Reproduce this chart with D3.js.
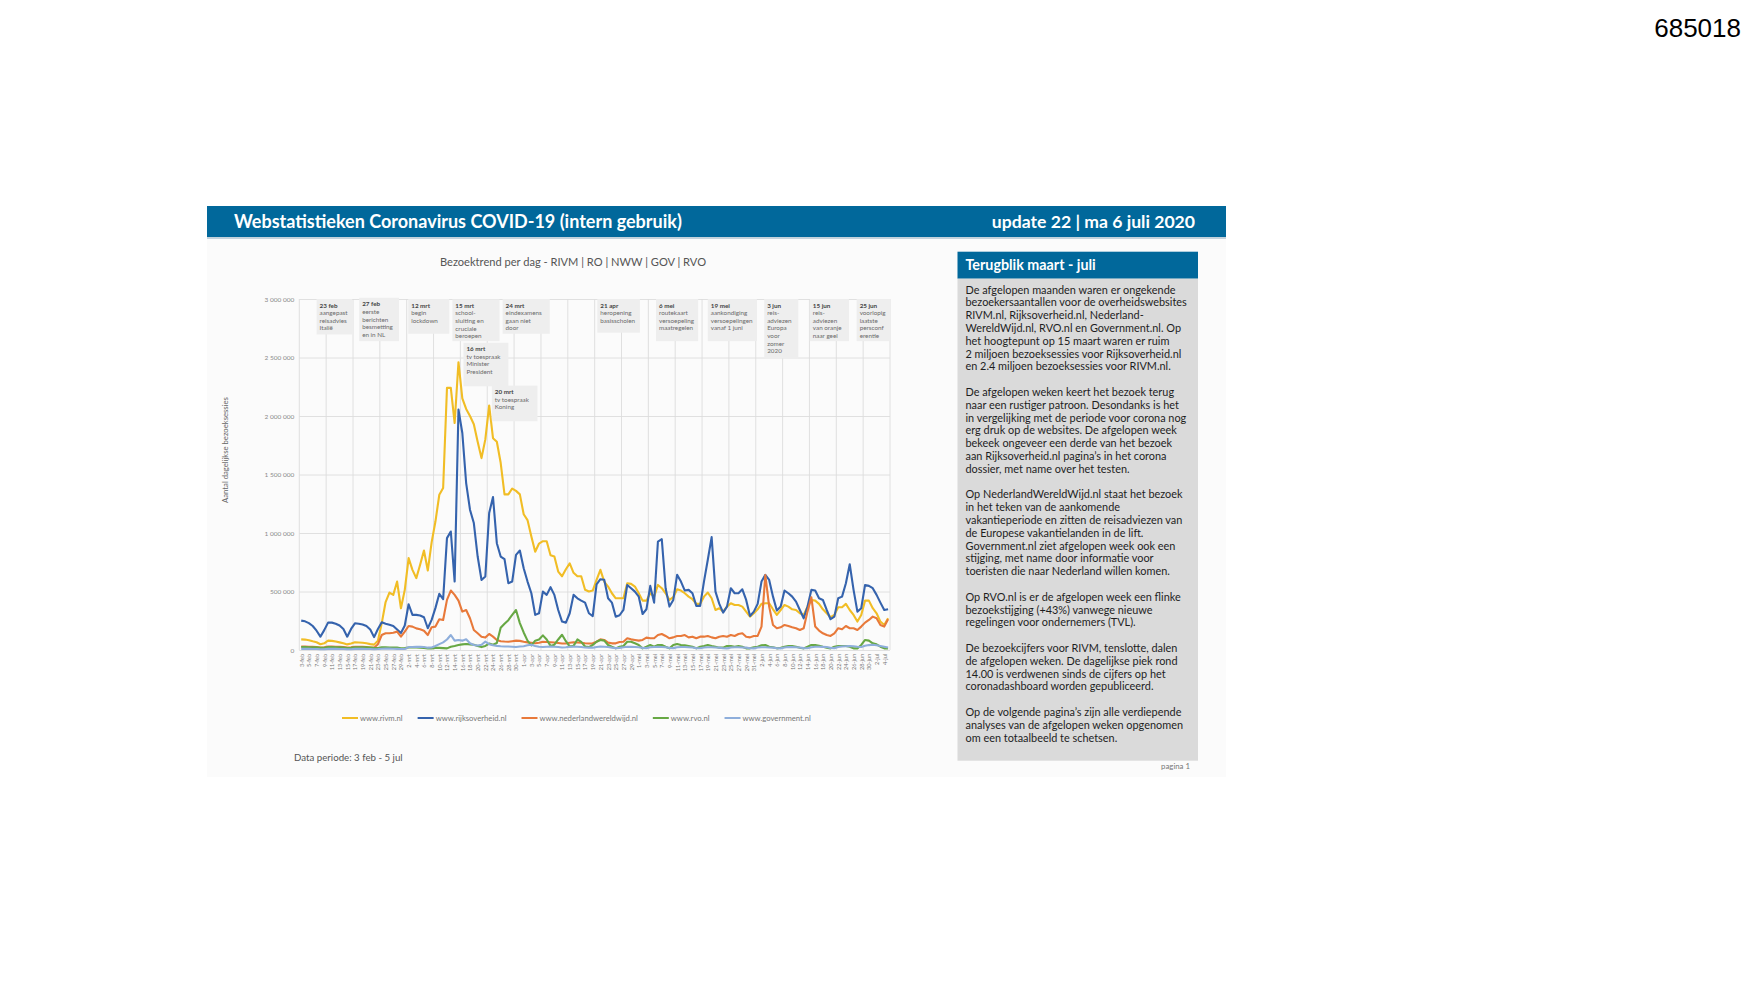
<!DOCTYPE html>
<meta charset="utf-8" />
<style>
  body {
    margin: 0;
    background: #ffffff;
  }
  text {
    font-family: Lato, "Open Sans", sans-serif;
  }
</style>
<body>
  <div id="my_dataviz"></div>
  <script src="https://d3js.org/d3.v7.min.js"></script>
  <script>
    // ---- data (daily visits, in thousands) ----
    var startDate = new Date(2020, 1, 3);
    var dayCount = 154;
    var monthNames = ["jan", "feb", "mrt", "apr", "mei", "jun", "jul", "aug", "sep", "okt", "nov", "dec"];
    var yTicks = [0, 500, 1000, 1500, 2000, 2500, 3000];
    var seriesNames = ["www.rivm.nl", "www.rijksoverheid.nl", "www.nederlandwereldwijd.nl", "www.rvo.nl", "www.government.nl"];

    var rivm = [
      91, 89, 83, 74, 66, 49, 57, 80, 78, 72, 65, 58, 48, 55, 66, 64, 62, 57, 50, 46, 80,
      230, 410, 491, 471, 585, 357, 514, 785, 685, 614, 728, 850, 679, 920, 1100, 1327, 1384, 2240, 2240, 1940,
      2460, 2150, 2060, 2000, 1930, 1780, 1640, 1800, 2090, 1810, 1780, 1600, 1330, 1330, 1380, 1360, 1330, 1160, 1110, 970,
      840, 910, 930, 930, 810, 800, 670, 630, 690, 740, 660, 630, 630, 515, 500,
      508, 599, 685, 585, 542, 485, 442, 442, 442, 571, 565, 542, 485, 422, 422, 485, 456, 556, 528, 485,
      428, 451, 519, 508, 485, 456, 434, 394, 394, 456, 491, 442, 342, 357, 328, 371, 400, 385, 385, 371,
      328, 285, 314, 348, 394, 400, 400, 348, 300, 342, 385, 371, 348, 342, 314, 300, 371, 428, 422, 394,
      348, 314, 280, 300, 365, 365, 394, 342, 300, 243, 300, 422, 422, 357, 314, 243, 214, 271
    ];
    var rijksoverheid = [
      251, 245, 230, 205, 165, 114, 170, 234, 234, 225, 210, 180, 114, 180, 228, 225, 218, 205, 175, 110, 180,
      237, 225, 215, 205, 175, 145, 210, 391, 300, 300, 295, 280, 186, 257, 360, 480, 434, 956, 1013, 585,
      2055, 1855, 1427, 1199, 1085, 799, 599, 628, 1170, 1307, 913, 799, 776, 571, 585, 813, 850, 699, 585, 485,
      300, 314, 499, 471, 537, 471, 342, 243, 234, 314, 471, 442, 422, 405, 314,
      290, 560, 605, 600, 442, 405, 285, 297, 342, 556, 528, 499, 456, 308, 348, 548, 405, 927, 947, 528,
      371, 428, 642, 585, 508, 514, 485, 377, 377, 585, 771, 965, 499, 394, 320, 371, 528, 485, 485, 519,
      428, 291, 328, 394, 585, 642, 599, 456, 337, 371, 508, 485, 456, 414, 342, 271, 371, 514, 508, 442,
      428, 342, 263, 285, 442, 456, 571, 733, 514, 328, 357, 556, 548, 528, 471, 405, 342, 348
    ];
    var nederlandwereldwijd = [
      30, 29, 28, 27, 26, 22, 24, 30, 29, 28, 27, 25, 21, 23, 28, 28, 27, 25, 22, 20, 50,
      128, 143, 143, 148, 157, 114, 157, 205, 200, 185, 177, 165, 128, 194, 200, 263, 257, 428, 508, 471,
      422, 328, 342, 271, 171, 143, 114, 106, 137, 114, 86, 75, 72, 70, 75, 80, 78, 70, 65, 62,
      58, 62, 70, 68, 66, 64, 60, 56, 55, 62, 66, 64, 62, 58, 55,
      57, 71, 91, 86, 63, 57, 57, 68, 71, 100, 91, 86, 80, 86, 106, 100, 100, 128, 137, 120,
      100, 108, 120, 120, 128, 108, 114, 100, 114, 114, 120, 108, 100, 114, 120, 114, 128, 120, 137, 143,
      114, 108, 120, 120, 200, 640, 371, 214, 186, 194, 214, 205, 194, 186, 171, 186, 330, 450, 200, 166,
      143, 128, 120, 143, 186, 177, 205, 186, 186, 171, 200, 234, 257, 285, 271, 214, 200, 263
    ];
    var rvo = [
      25, 25, 24, 24, 23, 18, 19, 25, 25, 24, 23, 22, 17, 18, 24, 24, 23, 23, 21, 16, 17,
      23, 23, 22, 22, 20, 15, 16, 22, 22, 21, 20, 18, 13, 14, 18, 18, 16, 14, 28, 35,
      43, 48, 51, 48, 45, 35, 25, 35, 55, 45, 60, 190, 225, 255, 300, 342, 230, 150, 80, 40,
      80, 90, 125, 90, 35, 45, 90, 130, 75, 30, 35, 90, 70, 30, 25,
      43, 71, 86, 80, 43, 28, 14, 28, 34, 71, 71, 57, 43, 14, 28, 43, 28, 43, 43, 28,
      14, 43, 51, 43, 40, 34, 28, 14, 28, 34, 43, 34, 28, 20, 20, 34, 34, 28, 34, 28,
      14, 14, 23, 28, 40, 43, 28, 23, 14, 20, 28, 34, 34, 28, 20, 14, 28, 43, 43, 37,
      28, 20, 14, 28, 34, 34, 34, 28, 14, 14, 43, 86, 80, 57, 48, 28, 14, 14
    ];
    var government = [
      10, 10, 10, 9, 9, 7, 7, 10, 10, 10, 9, 9, 7, 7, 10, 10, 10, 9, 9, 7, 8,
      11, 12, 12, 11, 10, 8, 9, 25, 26, 27, 27, 26, 20, 22, 34, 50, 65, 90, 128, 80,
      86, 80, 91, 57, 43, 38, 45, 71, 50, 40, 35, 32, 30, 30, 28, 26, 30, 32, 40, 45,
      35, 28, 26, 28, 30, 28, 25, 22, 24, 28, 30, 28, 26, 22, 20,
      20, 26, 30, 28, 25, 20, 16, 18, 24, 28, 27, 26, 24, 18, 16, 24, 26, 28, 26, 24,
      18, 16, 24, 26, 25, 24, 22, 16, 15, 22, 24, 24, 22, 20, 15, 14, 22, 24, 23, 22,
      20, 15, 14, 22, 24, 24, 22, 20, 15, 14, 22, 25, 25, 24, 22, 16, 15, 24, 28, 28,
      27, 25, 18, 16, 26, 30, 32, 34, 32, 28, 26, 36, 42, 45, 40, 34, 28, 22
    ];

    // callouts above the lines
    var annotations = [
      ["23 feb", "aangepast", "reisadvies", "Italië"],
      ["27 feb", "eerste", "berichten", "besmetting", "en in NL"],
      ["12 mrt", "begin", "lockdown"],
      ["15 mrt", "school-", "sluiting en", "cruciale", "beroepen"],
      ["16 mrt", "tv toespraak", "Minister", "President"],
      ["20 mrt", "tv toespraak", "Koning"],
      ["24 mrt", "eindexamens", "gaan niet", "door"],
      ["21 apr", "heropening", "basisscholen"],
      ["6 mei", "routekaart", "versoepeling", "maatregelen"],
      ["19 mei", "aankondiging", "versoepelingen", "vanaf 1 juni"],
      ["3 jun", "reis-", "adviezen", "Europa", "voor", "zomer", "2020"],
      ["15 jun", "reis-", "adviezen", "van oranje", "naar geel"],
      ["25 jun", "voorlopig", "laatste", "persconf", "erentie"]
    ];
    // box layout: [start day, width in days, top value, bottom value]
    var annotationBoxes = [
      [4.5, 9.3, 3000, 2697], [15.6, 10.4, 3010, 2640], [28.4, 10.7, 3000, 2703],
      [39.9, 12.3, 2997, 2640], [42.8, 11.7, 2626, 2254], [50.2, 11.9, 2260, 1955],
      [53.0, 12.3, 3000, 2703], [77.7, 11.1, 3000, 2712], [93.0, 11.0, 3000, 2640],
      [106.5, 12.8, 3000, 2640], [121.2, 8.9, 3000, 2492], [133.1, 10.2, 3000, 2640],
      [145.3, 8.7, 3000, 2640]
    ];

    var panelParagraphs = [
      ["De afgelopen maanden waren er ongekende",
       "bezoekersaantallen voor de overheidswebsites",
       "RIVM.nl, Rijksoverheid.nl, Nederland-",
       "WereldWijd.nl, RVO.nl en Government.nl. Op",
       "het hoogtepunt op 15 maart waren er ruim",
       "2 miljoen bezoeksessies voor Rijksoverheid.nl",
       "en 2.4 miljoen bezoeksessies voor RIVM.nl."],
      ["De afgelopen weken keert het bezoek terug",
       "naar een rustiger patroon. Desondanks is het",
       "in vergelijking met de periode voor corona nog",
       "erg druk op de websites. De afgelopen week",
       "bekeek ongeveer een derde van het bezoek",
       "aan Rijksoverheid.nl pagina’s in het corona",
       "dossier, met name over het testen."],
      ["Op NederlandWereldWijd.nl staat het bezoek",
       "in het teken van de aankomende",
       "vakantieperiode en zitten de reisadviezen van",
       "de Europese vakantielanden in de lift.",
       "Government.nl ziet afgelopen week ook een",
       "stijging, met name door informatie voor",
       "toeristen die naar Nederland willen komen."],
      ["Op RVO.nl is er de afgelopen week een flinke",
       "bezoekstijging (+43%) vanwege nieuwe",
       "regelingen voor ondernemers (TVL)."],
      ["De bezoekcijfers voor RIVM, tenslotte, dalen",
       "de afgelopen weken. De dagelijkse piek rond",
       "14.00 is verdwenen sinds de cijfers op het",
       "coronadashboard worden gepubliceerd."],
      ["Op de volgende pagina’s zijn alle verdiepende",
       "analyses van de afgelopen weken opgenomen",
       "om een totaalbeeld te schetsen."]
    ];

    var series = [rivm, rijksoverheid, nederlandwereldwijd, rvo, government];
    var colors = ["#f1bd25", "#3563ad", "#e8793a", "#67a844", "#8eaedb"];
    var dates = d3.timeDay.range(startDate, d3.timeDay.offset(startDate, dayCount));

    var svg = d3
      .select("#my_dataviz")
      .append("svg")
      .attr("width", 1754)
      .attr("height", 987);

    // slide background + header bar
    svg.append("rect").attr("x", 207).attr("y", 206).attr("width", 1019).attr("height", 571).attr("fill", "#fbfbfb");
    svg.append("rect").attr("x", 207).attr("y", 206).attr("width", 1019).attr("height", 31).attr("fill", "#01689b");
    svg.append("rect").attr("x", 207).attr("y", 237).attr("width", 1019).attr("height", 2).attr("fill", "#c3d2dc");

    svg
      .append("text")
      .attr("x", 234)
      .attr("y", 227.5)
      .attr("fill", "#ffffff")
      .style("font-size", "18px")
      .style("font-weight", 700)
      .text("Webstatistieken Coronavirus COVID-19 (intern gebruik)");

    svg
      .append("text")
      .attr("x", 1195)
      .attr("y", 227.5)
      .attr("text-anchor", "end")
      .attr("fill", "#ffffff")
      .style("font-size", "17.6px")
      .style("font-weight", 700)
      .text("update 22 |  ma 6 juli 2020");

    svg
      .append("text")
      .attr("x", 1741)
      .attr("y", 36.5)
      .attr("text-anchor", "end")
      .attr("fill", "#000000")
      .style("font-family", "'Liberation Sans', Arial, sans-serif")
      .style("font-size", "26px")
      .text("685018");

    // ---- chart ----
    var plotLeft = 299.3,
      plotRight = 890,
      plotTop = 299,
      plotBottom = 650;

    var x = d3.scaleLinear().domain([0, dayCount]).range([plotLeft, plotRight]);
    var y = d3.scaleLinear().domain([0, 3000]).range([plotBottom, plotTop]);

    var nl = d3.formatLocale({ decimal: ",", thousands: " ", grouping: [3], currency: ["€", ""] });
    var fmt = nl.format(",d");

    svg
      .append("text")
      .attr("x", 573)
      .attr("y", 265.5)
      .attr("text-anchor", "middle")
      .attr("fill", "#555555")
      .style("font-size", "11.1px")
      .text("Bezoektrend per dag - RIVM | RO | NWW | GOV | RVO");

    // horizontal gridlines + y labels
    var yAxis = svg
      .append("g")
      .attr("transform", "translate(" + plotLeft + ",0)")
      .call(
        d3
          .axisLeft(y)
          .tickValues(yTicks)
          .tickSize(-(plotRight - plotLeft))
          .tickPadding(5)
          .tickFormat(function(d) {
            return fmt(d * 1000);
          })
      );
    yAxis.select(".domain").remove();
    yAxis.selectAll("line").attr("stroke", "#dddddd").attr("stroke-width", 0.9);
    yAxis.selectAll("text").attr("fill", "#8a8a8a").style("font-size", "6.5px");

    // vertical gridlines every week
    svg
      .append("g")
      .selectAll("line")
      .data(d3.range(0, dayCount + 1, 7))
      .enter()
      .append("line")
      .attr("x1", function(d) { return x(d); })
      .attr("x2", function(d) { return x(d); })
      .attr("y1", plotTop)
      .attr("y2", plotBottom)
      .attr("stroke", "#dddddd")
      .attr("stroke-width", 0.9);

    // x labels every second day
    var xAxis = svg
      .append("g")
      .attr("transform", "translate(0," + plotBottom + ")")
      .call(
        d3
          .axisBottom(x)
          .tickValues(d3.range(0, dayCount, 2).map(function(i) { return i + 0.5; }))
          .tickSize(0)
          .tickFormat(function(d) {
            var dt = dates[Math.floor(d)];
            return dt.getDate() + "-" + monthNames[dt.getMonth()];
          })
      );
    xAxis.select(".domain").remove();
    xAxis
      .selectAll("text")
      .attr("transform", "rotate(-90)")
      .attr("text-anchor", "end")
      .attr("x", -4)
      .attr("y", 0)
      .attr("dy", "0.35em")
      .attr("fill", "#777777")
      .style("font-size", "5.5px");

    // y axis title
    svg
      .append("text")
      .attr("transform", "translate(228,450) rotate(-90)")
      .attr("text-anchor", "middle")
      .attr("fill", "#666666")
      .style("font-size", "7.7px")
      .text("Aantal dagelijkse bezoeksessies");

    // the lines
    var line = d3
      .line()
      .x(function(d, i) { return x(i + 0.5); })
      .y(function(d) { return y(d); });

    svg
      .append("g")
      .selectAll("path")
      .data(series)
      .enter()
      .append("path")
      .attr("fill", "none")
      .attr("stroke", function(d, i) { return colors[i]; })
      .attr("stroke-width", 2.1)
      .attr("stroke-linejoin", "round")
      .attr("d", line);

    // callout boxes
    var boxes = svg
      .append("g")
      .selectAll("g")
      .data(annotations)
      .enter()
      .append("g")
      .attr("transform", function(d, i) {
        var b = annotationBoxes[i];
        return "translate(" + x(b[0]) + "," + y(b[2]) + ")";
      });

    boxes
      .append("rect")
      .attr("width", function(d, i) { return x(annotationBoxes[i][1]) - x(0); })
      .attr("height", function(d, i) { return y(annotationBoxes[i][3]) - y(annotationBoxes[i][2]); })
      .attr("fill", "#eeeeee");

    boxes
      .selectAll("text")
      .data(function(d) { return d; })
      .enter()
      .append("text")
      .attr("x", 3)
      .attr("y", function(d, j) { return 8.5 + j * 7.6; })
      .attr("fill", function(d, j) { return j === 0 ? "#444444" : "#6a6a6a"; })
      .style("font-weight", function(d, j) { return j === 0 ? 700 : 400; })
      .style("font-size", "6.3px")
      .text(function(d) { return d; });

    // legend
    var legend = svg.append("g").attr("transform", "translate(0,718)");
    var lx = 342;
    seriesNames.forEach(function(name, i) {
      legend
        .append("line")
        .attr("x1", lx)
        .attr("x2", lx + 16)
        .attr("stroke", colors[i])
        .attr("stroke-width", 2);
      var t = legend
        .append("text")
        .attr("x", lx + 18)
        .attr("dy", "0.35em")
        .attr("fill", "#777777")
        .style("font-size", "7.7px")
        .text(name);
      lx += 18 + t.node().getComputedTextLength() + 15;
    });

    svg
      .append("text")
      .attr("x", 294)
      .attr("y", 760.5)
      .attr("fill", "#555555")
      .style("font-size", "9.7px")
      .text("Data periode: 3 feb - 5 jul");

    // ---- right panel ----
    svg.append("rect").attr("x", 957.5).attr("y", 251.7).attr("width", 240.5).attr("height", 27).attr("fill", "#01689b");
    svg.append("rect").attr("x", 957.5).attr("y", 278.7).attr("width", 240.5).attr("height", 482).attr("fill", "#dadada");

    svg
      .append("text")
      .attr("x", 965.5)
      .attr("y", 270)
      .attr("fill", "#ffffff")
      .style("font-size", "14.3px")
      .style("font-weight", 700)
      .text("Terugblik maart - juli");

    var lineNo = 0;
    var body = svg.append("g");
    panelParagraphs.forEach(function(par) {
      par.forEach(function(txt) {
        body
          .append("text")
          .attr("x", 965.5)
          .attr("y", 293.5 + lineNo * 12.8)
          .attr("fill", "#1e1e1e")
          .style("font-size", "10.9px")
          .text(txt);
        lineNo += 1;
      });
      lineNo += 1;
    });

    svg
      .append("text")
      .attr("x", 1190)
      .attr("y", 768.5)
      .attr("text-anchor", "end")
      .attr("fill", "#777777")
      .style("font-size", "7.8px")
      .text("pagina 1");
  </script>
</body>
